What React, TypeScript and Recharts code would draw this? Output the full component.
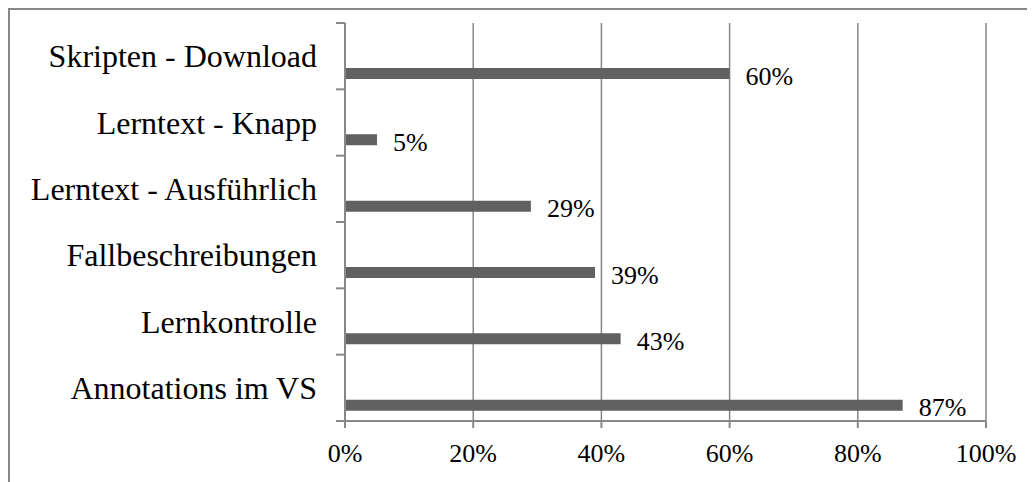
import React from "react";
import { BarChart, Bar, XAxis, YAxis, CartesianGrid, LabelList } from "recharts";

const categories = [
  "Skripten - Download",
  "Lerntext - Knapp",
  "Lerntext - Ausführlich",
  "Fallbeschreibungen",
  "Lernkontrolle",
  "Annotations im VS",
];
const values = [60, 5, 29, 39, 43, 87];
const xTicks = [0, 20, 40, 60, 80, 100];

const data = categories.map((name, i) => ({ name, value: values[i], empty: null }));

const W = 1025;
const H = 472;
const MARGIN = { top: 13, right: 49, left: 0, bottom: 0 };
const X_AXIS_H = 61;
const Y_AXIS_W = 335;
const PLOT_H = H - MARGIN.top - MARGIN.bottom - X_AXIS_H;
const BAND = PLOT_H / categories.length;
const TICK_SIZE = 9;
const TICK_MARGIN = 19;
const GRAY = "#878787";
const FONT = "'Liberation Serif', 'Times New Roman', serif";

const CategoryTick = (props: any) => {
  const { x, y, payload, index } = props;
  const axisX = x + TICK_MARGIN + TICK_SIZE;
  const lines = [y + BAND / 2];
  if (index === 0) lines.push(y - BAND / 2);
  return (
    <g>
      {lines.map((ly, i) => (
        <line key={i} x1={axisX - TICK_SIZE} x2={axisX} y1={ly} y2={ly} stroke={GRAY} strokeWidth={2} />
      ))}
      <text x={x} y={y} dy="0.35em" textAnchor="end" fontFamily={FONT} fontSize={32} fill="#000">
        {payload.value}
      </text>
    </g>
  );
};

const PercentTick = (props: any) => {
  const { x, y, payload } = props;
  return (
    <text x={x} y={y} dy="0.71em" textAnchor="middle" fontFamily={FONT} fontSize={26} fill="#000">
      {`${payload.value}%`}
    </text>
  );
};

const ValueLabel = (props: any) => {
  const { x, y, width, height, value } = props;
  return (
    <text
      x={x + width + 16}
      y={y + height / 2}
      dy="0.43em"
      textAnchor="start"
      fontFamily={FONT}
      fontSize={26}
      fill="#000"
    >
      {`${value}%`}
    </text>
  );
};

export default function App() {
  return (
    <div
      style={{
        width: W + 2,
        height: H + 2,
        borderTop: `2px solid ${GRAY}`,
        borderLeft: `2px solid ${GRAY}`,
        boxSizing: "border-box",
        overflow: "hidden",
        fontFamily: FONT,
      }}
    >
      <BarChart
        width={W}
        height={H}
        data={data}
        layout="vertical"
        margin={MARGIN}
        barGap={24}
        style={{ fontFamily: FONT }}
      >
        <CartesianGrid horizontal={false} stroke={GRAY} strokeWidth={1.5} />
        <XAxis
          type="number"
          domain={[0, 100]}
          ticks={xTicks}
          interval={0}
          height={X_AXIS_H}
          axisLine={{ stroke: GRAY, strokeWidth: 2 }}
          tickLine={{ stroke: GRAY, strokeWidth: 2 }}
          tickSize={7}
          tickMargin={16}
          tick={<PercentTick />}
        />
        <YAxis
          type="category"
          dataKey="name"
          width={Y_AXIS_W}
          interval={0}
          axisLine={{ stroke: GRAY, strokeWidth: 2 }}
          tickLine={{ stroke: "none" }}
          tickSize={TICK_SIZE}
          tickMargin={TICK_MARGIN}
          tick={<CategoryTick />}
        />
        <Bar dataKey="empty" barSize={11} fill="none" isAnimationActive={false} />
        <Bar dataKey="value" barSize={11} fill="#616161" isAnimationActive={false}>
          <LabelList dataKey="value" content={<ValueLabel />} />
        </Bar>
      </BarChart>
    </div>
  );
}
